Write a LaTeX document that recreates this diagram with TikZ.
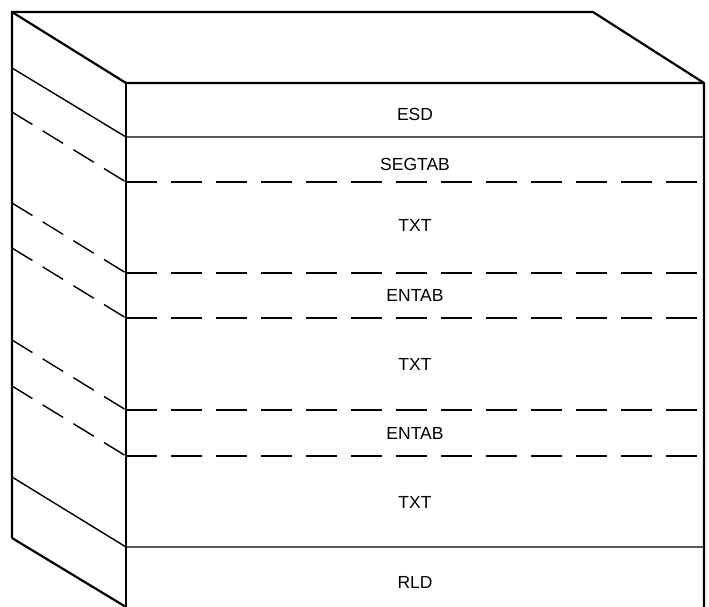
\documentclass[tikz,border=0pt]{standalone}
\usepackage{fontspec}
\setmainfont{Liberation Sans}
\usepackage{tikz}
\usetikzlibrary{positioning}

\begin{document}
\begin{tikzpicture}[x=1pt, y=-1pt,
    edge/.style={line width=2.2pt, line join=miter},
    solidline/.style={line width=1.4pt},
    dashline/.style={line width=1.4pt, dash pattern=on 31pt off 14pt},
    slantdash/.style={line width=1.4pt, dash pattern=on 24pt off 12pt},
    tag/.style={font=\fontsize{17.5}{20}\selectfont, inner sep=0pt}]
    \useasboundingbox (0, 0) rectangle (709, 607);

    % outline of the block
    \draw [edge] (12, 538) -- (12, 12) -- (593, 12) -- (704, 83) -- (704, 607);
    \draw [edge] (12, 12) -- (126, 83) -- (704, 83);
    \draw [edge] (126, 83) -- (126, 607);
    \draw [edge] (12, 538) -- (126, 607);

    % solid layer boundaries
    \draw [solidline] (12, 68) -- (126, 137) -- (704, 137);
    \draw [solidline] (12, 477) -- (126, 547) -- (704, 547);

    % dashed layer boundaries
    \draw [slantdash] (12, 112) -- (126, 182);
    \draw [dashline] (126, 182) -- (704, 182);
    \draw [slantdash] (12, 203) -- (126, 273);
    \draw [dashline] (126, 273) -- (704, 273);
    \draw [slantdash] (12, 248) -- (126, 318);
    \draw [dashline] (126, 318) -- (704, 318);
    \draw [slantdash] (12, 340) -- (126, 410);
    \draw [dashline] (126, 410) -- (704, 410);
    \draw [slantdash] (12, 386) -- (126, 456);
    \draw [dashline] (126, 456) -- (704, 456);

    \node [tag] (esd) at (415, 114) {ESD};
    \node [tag] (segtab) at (415, 164) {SEGTAB};
    \node [tag] (txta) at (415, 225) {TXT};
    \node [tag] (entaba) at (415, 295) {ENTAB};
    \node [tag] (txtb) at (415, 364) {TXT};
    \node [tag] (entabb) at (415, 433) {ENTAB};
    \node [tag] (txtc) at (415, 502) {TXT};
    \node [tag] (rld) at (415, 582) {RLD};
\end{tikzpicture}
\end{document}
